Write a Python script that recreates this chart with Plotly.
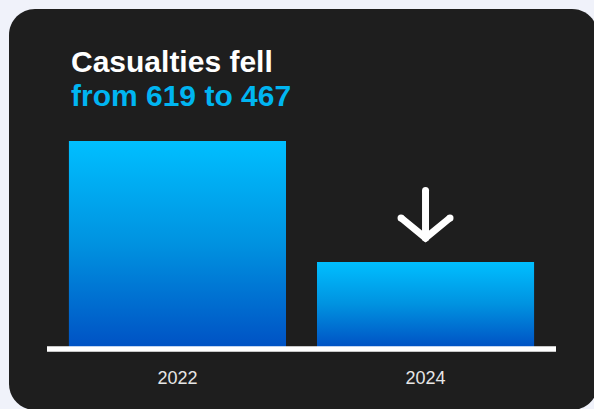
import plotly.graph_objects as go

# ---------------- data ----------------
years = ["2022", "2024"]
casualties = [619, 467]
title_line1 = "Casualties fell"
title_line2 = "from 619 to 467"

# ---------------- layout constants ----------------
W, H = 594, 409
ML, MR, MT, MB = 47, 38, 141, 62
PW, PH = W - ML - MR, H - MT - MB
Y_FLOOR = 360          # value axis starts here (truncated axis)
Y_TOP = 619
X_RANGE = [-0.526, 1.526]
BAR_WIDTH = 0.875

BG = "#f0f2fa"
CARD = "#1e1e1e"
CYAN = "#00bfff"
BLUE = "#0052c4"
TITLE_CYAN = "#00b5f1"
FONT = "Liberation Sans"


def px_to_paper(px, py):
    return (px - ML) / PW, (H - MB - py) / PH


def rounded_rect_path(x0, y0, x1, y1, r):
    k = 0.5523 * r
    pts = [
        ("M", [(x0 + r, y0)]),
        ("L", [(x1 - r, y0)]),
        ("C", [(x1 - r + k, y0), (x1, y0 + r - k), (x1, y0 + r)]),
        ("L", [(x1, y1 - r)]),
        ("C", [(x1, y1 - r + k), (x1 - r + k, y1), (x1 - r, y1)]),
        ("L", [(x0 + r, y1)]),
        ("C", [(x0 + r - k, y1), (x0, y1 - r + k), (x0, y1 - r)]),
        ("L", [(x0, y0 + r)]),
        ("C", [(x0, y0 + r - k), (x0 + r - k, y0), (x0 + r, y0)]),
    ]
    s = ""
    for cmd, ps in pts:
        s += cmd + " " + " ".join("%.5f,%.5f" % px_to_paper(px, py) for px, py in ps) + " "
    return s + "Z"


fig = go.Figure()

# real bars (data marks)
fig.add_trace(go.Bar(
    x=list(range(len(years))), y=casualties, width=BAR_WIDTH,
    marker=dict(color="#0088dc", line=dict(width=0)),
    hoverinfo="skip", showlegend=False,
))

# vertical gradient overlay for each bar
for i, v in enumerate(casualties):
    xl, xr = i - BAR_WIDTH / 2, i + BAR_WIDTH / 2
    fig.add_trace(go.Scatter(
        x=[xl, xr, xr, xl, xl], y=[Y_FLOOR, Y_FLOOR, v, v, Y_FLOOR],
        mode="lines", fill="toself", line=dict(width=0),
        fillgradient=dict(type="vertical", start=Y_FLOOR, stop=v,
                          colorscale=[[0, BLUE], [0.5, "#0092e0"], [1, CYAN]]),
        hoverinfo="skip", showlegend=False,
    ))

# down arrow above the 2024 bar
ppx = PW / (X_RANGE[1] - X_RANGE[0])
ppy = PH / (Y_TOP - Y_FLOOR)
ax, ay = 1, casualties[1]
tip, top, wing_up, wing_dx = 24, 71.5, 44, 24.5
fig.add_trace(go.Scatter(
    x=[ax - wing_dx / ppx, ax, ax + wing_dx / ppx, None, ax, ax],
    y=[ay + wing_up / ppy, ay + tip / ppy, ay + wing_up / ppy, None, ay + top / ppy, ay + tip / ppy],
    mode="lines+markers", line=dict(color="white", width=7),
    marker=dict(color="white", size=7), hoverinfo="skip", showlegend=False,
))

shapes = [
    dict(type="path", xref="paper", yref="paper", layer="below",
         path=rounded_rect_path(9, 9, 598, 410, 26),
         fillcolor=CARD, line=dict(width=0)),
    dict(type="line", xref="paper", yref="paper", layer="above",
         x0=0, x1=1, y0=px_to_paper(0, 349)[1], y1=px_to_paper(0, 349)[1],
         line=dict(color="white", width=5.5)),
]

t1x, t1y = px_to_paper(69, 62)
t2x, t2y = px_to_paper(69, 95)
annotations = [
    dict(text="<b>%s</b>" % title_line1, x=t1x, y=t1y, xref="paper", yref="paper",
         xanchor="left", yanchor="middle", showarrow=False,
         font=dict(family=FONT, size=30, color="white")),
    dict(text="<b>%s</b>" % title_line2, x=t2x, y=t2y, xref="paper", yref="paper",
         xanchor="left", yanchor="middle", showarrow=False,
         font=dict(family=FONT, size=30, color=TITLE_CYAN)),
]

fig.update_layout(
    width=W, height=H, autosize=False,
    margin=dict(l=ML, r=MR, t=MT, b=MB, pad=0),
    paper_bgcolor=BG, plot_bgcolor="rgba(0,0,0,0)",
    shapes=shapes, annotations=annotations, showlegend=False,
    xaxis=dict(range=X_RANGE, tickvals=list(range(len(years))), ticktext=years,
               showgrid=False, zeroline=False, showline=False, ticks="",
               ticklabelstandoff=18, fixedrange=True,
               tickfont=dict(family=FONT, size=18, color="#e6e6e6")),
    yaxis=dict(range=[Y_FLOOR, Y_TOP], visible=False, fixedrange=True),
)

fig.write_html("out.html", config={"displayModeBar": False})
